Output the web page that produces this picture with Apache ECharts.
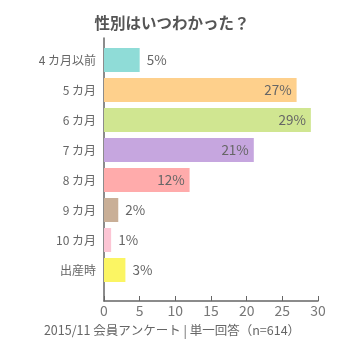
<!DOCTYPE html>
<html><head><meta charset="utf-8">
<script src="https://cdn.jsdelivr.net/npm/echarts@6/dist/echarts.min.js"></script>
<style>html,body{margin:0;padding:0;background:#fff}#c{width:344px;height:344px}</style>
</head><body><div id="c"></div>
<script>
const titleText = '性別はいつわかった？';
const footText = '2015/11 会員アンケート | 単一回答（n=614）';
const categories = ['4 カ月以前','5 カ月','6 カ月','7 カ月','8 カ月','9 カ月','10 カ月','出産時'];
const values = [5, 27, 29, 21, 12, 2, 1, 3];
const colors = ['#8fdcd7','#fed08c','#d0e691','#c6a6df','#ffabab','#c9af97','#fcc5d4','#fbf563'];
const insideMin = 10;
const xTicks = [0, 5, 10, 15, 20, 25, 30];

const FONT = '"Noto Sans CJK JP", "Noto Sans", sans-serif';
const chart = echarts.init(document.getElementById('c'), null, {renderer:'canvas'});
chart.setOption({
  animation:false,
  textStyle:{fontFamily:FONT},
  title:[
    {text:titleText, left:'center', top:10, textStyle:{fontSize:15.5, fontWeight:'bold', color:'#555', fontFamily:FONT}},
    {text:footText, left:'center', top:319, textStyle:{fontSize:12.5, fontWeight:'normal', color:'#666', fontFamily:FONT}}
  ],
  grid:[
    {left:104, right:26, top:45, height:240},
    {left:104, right:26, top:38, height:263}
  ],
  xAxis:[
    {gridIndex:0, type:'value', min:xTicks[0], max:xTicks[xTicks.length-1], interval:5, show:false},
    {gridIndex:1, type:'value', min:xTicks[0], max:xTicks[xTicks.length-1], interval:5,
     axisLine:{show:true, lineStyle:{color:'#666', width:1.5}},
     axisTick:{show:true, length:5, inside:true, lineStyle:{color:'#666'}},
     axisLabel:{color:'#777', fontSize:14, margin:3, fontFamily:FONT},
     splitLine:{show:false}}
  ],
  yAxis:[
    {gridIndex:0, type:'category', data:categories, inverse:true,
     axisLine:{show:false}, axisTick:{show:false},
     axisLabel:{color:'#666', fontSize:12, margin:8, fontFamily:FONT}},
    {gridIndex:1, type:'value', min:0, max:1, axisLine:{show:true, lineStyle:{color:'#666', width:1.5}},
     axisTick:{show:false}, axisLabel:{show:false}, splitLine:{show:false}}
  ],
  series:[{
    type:'bar', xAxisIndex:0, yAxisIndex:0,
    barWidth:24,
    data: values.map((v,i)=>({
      value:v,
      itemStyle:{color:colors[i]},
      label:{show:true, position: v>=insideMin ? 'insideRight' : 'right',
             distance: v>=insideMin ? 5 : 7,
             formatter:'{c}%', color:'#666', fontSize:13.5, fontFamily:FONT}
    }))
  }]
});
</script></body></html>
